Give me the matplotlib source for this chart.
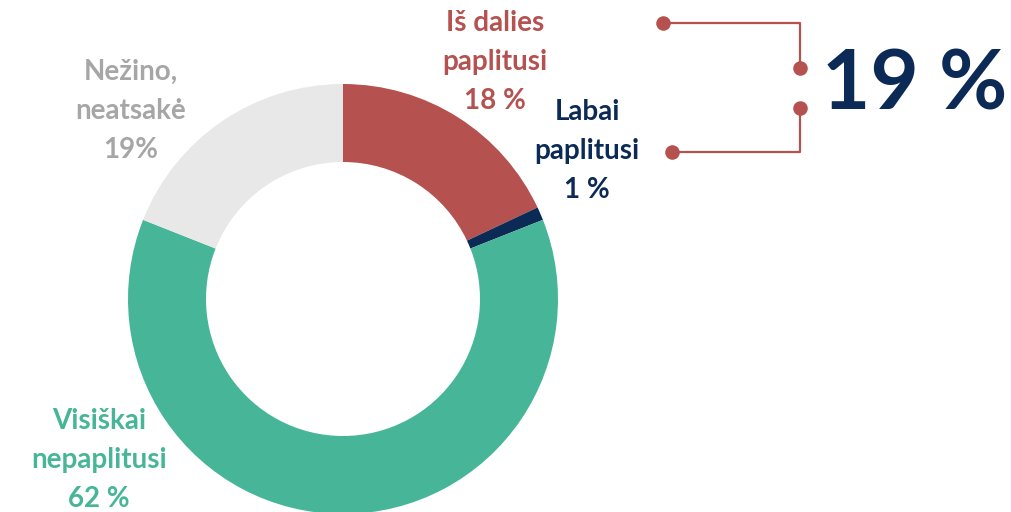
import matplotlib.pyplot as plt

plt.rcParams['font.family'] = ['Lato', 'DejaVu Sans']

# data
labels = ["Iš dalies\npaplitusi\n18 %", "Labai\npaplitusi\n1 %",
          "Visiškai\nnepaplitusi\n62 %", "Nežino,\nneatsakė\n19%"]
values = [18, 1, 62, 19]
colors = ["#B55250", "#0B2A55", "#47B597", "#E8E8E8"]
text_colors = ["#B55250", "#0B2A55", "#47B597", "#A6A6A6"]
label_pos = [(495, 62), (587, 151), (99, 460), (131, 111)]
total_text = "19 %"

W, H = 1012, 512
fig = plt.figure(figsize=(W / 100, H / 100), dpi=100)
ax = fig.add_axes([0, 0, 1, 1])

# donut, pixel coordinates (y flipped)
cx, cy, r = 343, H - 299, 215
ax.pie(values, colors=colors, startangle=90, counterclock=False,
       center=(cx, cy), radius=r, frame=True,
       wedgeprops=dict(width=78, linewidth=0))

for lab, (x, y), c in zip(labels, label_pos, text_colors):
    ax.text(x, H - y, lab, color=c, fontsize=20, fontweight='bold',
            ha='center', va='center', linespacing=1.62)

# bracket connector
red = "#B55250"
ax.plot([663, 800, 800], [H - 23, H - 23, H - 68], color=red, lw=1.6)
ax.plot([672, 800, 800], [H - 152, H - 152, H - 108], color=red, lw=1.6)
ax.scatter([663, 800, 800, 672], [H - 23, H - 68, H - 108, H - 152],
           s=110, color=red, zorder=3, linewidths=0)

ax.text(915, H - 86, total_text, color="#0B2A55", fontsize=60,
        fontweight='bold', ha='center', va='center')

ax.set_xlim(0, W)
ax.set_ylim(0, H)
ax.set_aspect('auto')
ax.axis('off')

fig.savefig("out.png", dpi=100)
